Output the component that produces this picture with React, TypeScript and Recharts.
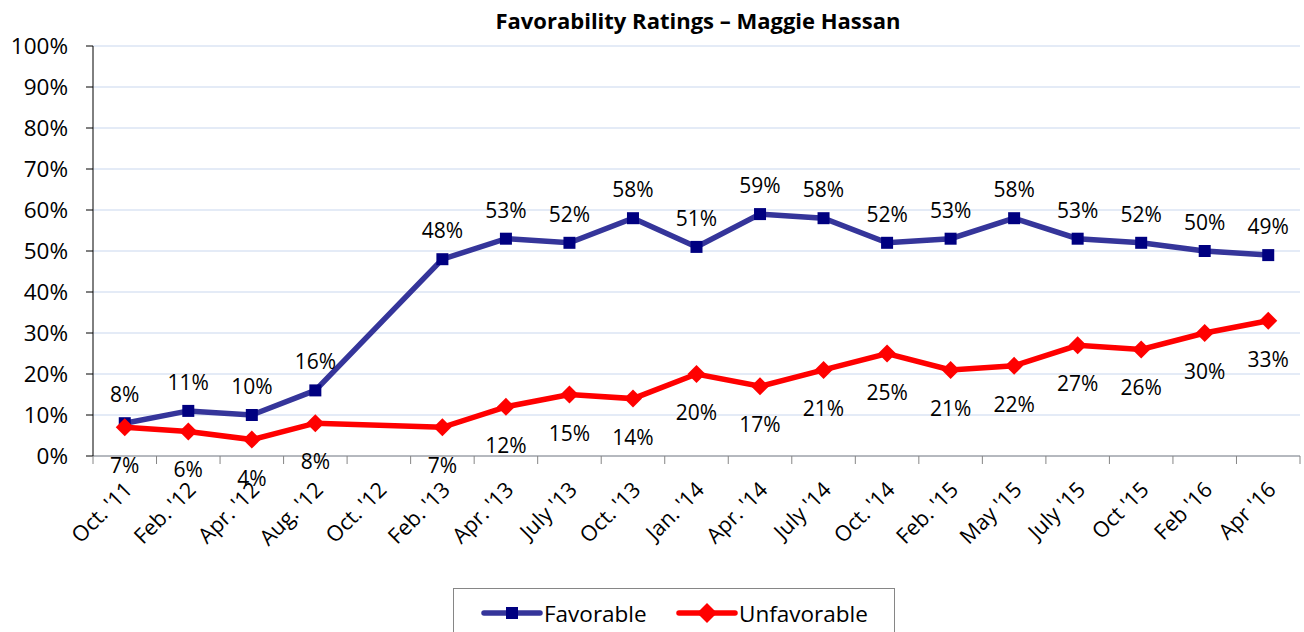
import { LineChart, Line, XAxis, YAxis, CartesianGrid } from "recharts";

const periods = [
  "Oct. '11", "Feb. '12", "Apr. '12", "Aug. '12", "Oct. '12", "Feb. '13", "Apr. '13",
  "July '13", "Oct. '13", "Jan. '14", "Apr. '14", "July '14", "Oct. '14", "Feb. '15",
  "May '15", "July '15", "Oct '15", "Feb '16", "Apr '16",
];
const favorable = [8, 11, 10, 16, null, 48, 53, 52, 58, 51, 59, 58, 52, 53, 58, 53, 52, 50, 49];
const unfavorable = [7, 6, 4, 8, null, 7, 12, 15, 14, 20, 17, 21, 25, 21, 22, 27, 26, 30, 33];
const yTicks = [0, 10, 20, 30, 40, 50, 60, 70, 80, 90, 100];

const data = periods.map((period, i) => ({
  period,
  favorable: favorable[i],
  unfavorable: unfavorable[i],
}));

const FONT = "'Open Sans', sans-serif";
const BLUE = "#35359a";
const NAVY = "#000080";
const RED = "#ff0000";

const W = 1304;
const H = 632;
const PLOT_LEFT = 93;
const PLOT_RIGHT = 1300;
const HALF_BAND = (PLOT_RIGHT - PLOT_LEFT) / periods.length / 2;

const XTick = ({ x, y, payload, index }: any) => (
  <g>
    <line x1={x - HALF_BAND} y1={y} x2={x - HALF_BAND} y2={y + 8} stroke="#868686" />
    {index === periods.length - 1 && (
      <line x1={x + HALF_BAND} y1={y} x2={x + HALF_BAND} y2={y + 8} stroke="#868686" />
    )}
    <text
      x={0}
      y={0}
      textAnchor="end"
      transform={`translate(${x + 9},${y + 35}) rotate(-45)`}
      fontSize={21.5}
      fontFamily={FONT}
      fill="#000"
    >
      {payload.value}
    </text>
  </g>
);

const Square = ({ cx, cy }: any) =>
  cx == null || cy == null ? null : (
    <rect x={cx - 6} y={cy - 6} width={12} height={12} fill={NAVY} />
  );

const Diamond = ({ cx, cy }: any) =>
  cx == null || cy == null ? null : (
    <path d={`M${cx},${cy - 9}L${cx + 9},${cy}L${cx},${cy + 9}L${cx - 9},${cy}Z`} fill={RED} />
  );

const makeLabel = (dy: number) => ({ x, y, value }: any) =>
  value == null ? null : (
    <text
      x={x}
      y={y + dy}
      textAnchor="middle"
      dominantBaseline="central"
      fontSize={21}
      fontFamily={FONT}
      fill="#000"
    >
      {`${value}%`}
    </text>
  );

export default function App() {
  return (
    <div style={{ position: "absolute", left: 0, top: 0, width: W, height: H, background: "#fff" }}>
      <LineChart
        width={W}
        height={H}
        data={data}
        margin={{ top: 46, right: W - PLOT_RIGHT, left: 0, bottom: 0 }}
      >
        <CartesianGrid vertical={false} stroke="#c9d7ee" />
        <XAxis
          dataKey="period"
          height={176}
          tick={<XTick />}
          tickLine={false}
          tickSize={0}
          tickMargin={0}
          interval={0}
          padding={{ left: HALF_BAND, right: HALF_BAND }}
          stroke="#868686"
        />
        <YAxis
          width={PLOT_LEFT}
          domain={[0, 100]}
          ticks={yTicks}
          tickFormatter={(v) => `${v}%`}
          tickSize={7}
          tickMargin={18}
          stroke="#000"
          tick={{ fontSize: 22.5, fontFamily: FONT, fill: "#000" }}
        />
        <Line
          dataKey="favorable"
          stroke={BLUE}
          strokeWidth={5.5}
          connectNulls
          dot={<Square />}
          isAnimationActive={false}
          label={makeLabel(-29)}
        />
        <Line
          dataKey="unfavorable"
          stroke={RED}
          strokeWidth={5.5}
          connectNulls
          dot={<Diamond />}
          isAnimationActive={false}
          label={makeLabel(38)}
        />
      </LineChart>
      <svg width={W} height={H} style={{ position: "absolute", left: 0, top: 0, pointerEvents: "none" }}>
        <text x={698} y={29} textAnchor="middle" fontSize={22} fontWeight="bold" fontFamily={FONT}>
          Favorability Ratings – Maggie Hassan
        </text>
        <rect x={453.5} y={588.5} width={441} height={50} fill="none" stroke="#868686" />
        <line x1={484} y1={613} x2={540} y2={613} stroke={BLUE} strokeWidth={5.5} strokeLinecap="round" />
        <rect x={506} y={607} width={12} height={12} fill={NAVY} />
        <line x1={679} y1={613} x2={735} y2={613} stroke={RED} strokeWidth={5.5} strokeLinecap="round" />
        <path d="M707,603L717,613L707,623L697,613Z" fill={RED} />
        <text x={544} y={613} dominantBaseline="central" fontSize={22.5} fontFamily={FONT}>
          Favorable
        </text>
        <text x={739} y={613} dominantBaseline="central" fontSize={22.5} fontFamily={FONT}>
          Unfavorable
        </text>
      </svg>
    </div>
  );
}
